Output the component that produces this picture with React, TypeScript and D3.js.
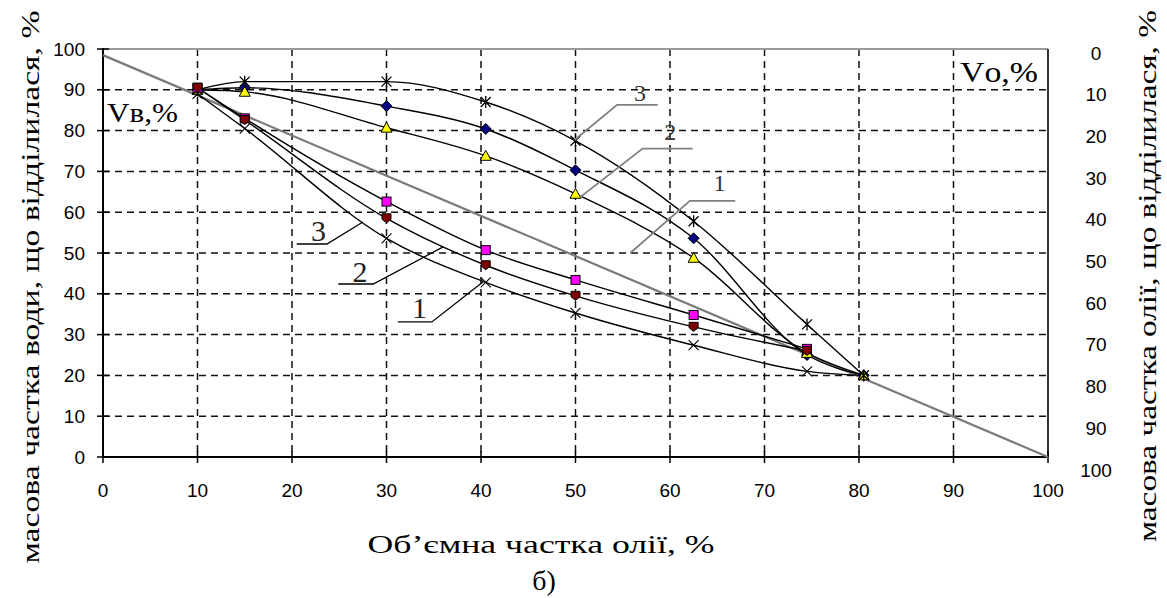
import React from "react";
import * as d3 from "d3";

// Oil volume fraction, % (x positions of measurements)
const OIL_FRACTION = [10, 15, 30, 40.5, 50, 62.5, 74.5, 80.5];

// Upper family: mass fraction of oil separated (curves 3, 2, 1)
const UPPER_3 = [90, 92, 92, 87, 77.5, 57.8, 32.5, 20];
const UPPER_2 = [90, 90.5, 86, 80.4, 70.3, 53.6, 25, 20];
const UPPER_1 = [90, 89.5, 80.7, 73.8, 64.5, 48.8, 25.5, 20];

// Lower family: mass fraction of water separated (curves 3, 2, 1)
const LOWER_X = [89, 80.5, 53.6, 42.8, 35.3, 27.4, 21, 20];
const LOWER_SQ = [90.5, 83, 62.6, 50.7, 43.4, 34.8, 26.5];
const LOWER_RD = [90.5, 82.6, 58.5, 47, 39.5, 31.9, 26];

// Reference diagonal (oil %, value %)
const DIAGONAL = [
  [0, 98.5],
  [100, 0],
];

const TICKS = [0, 10, 20, 30, 40, 50, 60, 70, 80, 90, 100];

// Curve number call-outs: label, text position, underline span, leader end (data units)
const CALLOUTS_UPPER = [
  { label: "3", tx: 56.2, ty: 87.2, u0: 54.4, u1: 58.7, uy: 86.3, lx: 49.9, ly: 77.7 },
  { label: "2", tx: 59.4, ty: 77.7, u0: 57.1, u1: 62.4, uy: 75.6, lx: 50.5, ly: 63.7 },
  { label: "1", tx: 64.6, ty: 65.2, u0: 62.1, u1: 66.9, uy: 62.8, lx: 55.8, ly: 50 },
];
const CALLOUTS_LOWER = [
  { label: "3", tx: 22.0, ty: 53.0, u0: 20.5, u1: 23.7, uy: 52.2, lx: 27.5, ly: 57.6 },
  { label: "2", tx: 26.4, ty: 42.9, u0: 24.9, u1: 28.6, uy: 42.4, lx: 36, ly: 51.5 },
  { label: "1", tx: 32.7, ty: 34.1, u0: 31.2, u1: 34.8, uy: 33.1, lx: 40.2, ly: 42.9 },
];

const W = 1167;
const H = 598;
const SERIF = '"Liberation Serif", "Times New Roman", Times, serif';
const SANS = '"Liberation Sans", Arial, sans-serif';
const serif = { fontFamily: SERIF, fontWeight: 400 } as React.CSSProperties;
const sans = { fontFamily: SANS, fontWeight: 400 } as React.CSSProperties;

const x = d3.scaleLinear().domain([0, 100]).range([103, 1048]);
const y = d3.scaleLinear().domain([0, 100]).range([457, 49]);
// right-hand scale (oil separated), reversed direction
const yRight = d3.scaleLinear().domain([0, 100]).range([53, 470]);

type Pt = [number, number];
const pts = (vals: number[]): Pt[] => vals.map((v, i) => [OIL_FRACTION[i], v]);

const line = d3
  .line<Pt>()
  .x((d) => x(d[0]))
  .y((d) => y(d[1]))
  .curve(d3.curveMonotoneX);

function Marker({ kind, cx, cy }: { kind: string; cx: number; cy: number }) {
  if (kind === "diamond") {
    const r = 5.5;
    return (
      <path
        d={`M${cx},${cy - r}L${cx + r},${cy}L${cx},${cy + r}L${cx - r},${cy}Z`}
        fill="#000080"
        stroke="#000"
        strokeWidth={1}
      />
    );
  }
  if (kind === "triangle") {
    const s = 5.5;
    return (
      <path
        d={`M${cx},${cy - s}L${cx + s},${cy + s * 0.8}L${cx - s},${cy + s * 0.8}Z`}
        fill="#ffff00"
        stroke="#000"
        strokeWidth={1}
      />
    );
  }
  if (kind === "square") {
    const s = 4.5;
    return (
      <rect x={cx - s} y={cy - s} width={2 * s} height={2 * s} fill="#ff00ff" stroke="#000" strokeWidth={1} />
    );
  }
  if (kind === "circle") {
    const s = 4.5;
    return (
      <path
        d={`M${cx - s},${cy - s}L${cx + s},${cy - s}L${cx + s},${cy + 1}L${cx},${cy + s}L${cx - s},${cy + 1}Z`}
        fill="#800000"
        stroke="#000"
        strokeWidth={1}
      />
    );
  }
  const a = 5;
  const cross = `M${cx - a},${cy - a}L${cx + a},${cy + a}M${cx - a},${cy + a}L${cx + a},${cy - a}`;
  if (kind === "star") {
    return <path d={`${cross}M${cx},${cy - a - 1}L${cx},${cy + a + 1}`} stroke="#000" strokeWidth={1.3} fill="none" />;
  }
  return <path d={cross} stroke="#000" strokeWidth={1.1} fill="none" />;
}

const SERIES = [
  { values: UPPER_2, marker: "diamond" },
  { values: UPPER_1, marker: "triangle" },
  { values: UPPER_3, marker: "star" },
  { values: LOWER_X, marker: "x" },
  { values: LOWER_SQ, marker: "square" },
  { values: LOWER_RD, marker: "circle" },
];

export default function App() {
  const gridVals = TICKS.slice(1, -1);
  return (
    <svg
      width={W}
      height={H}
      viewBox={`0 0 ${W} ${H}`}
      style={{ position: "absolute", left: 0, top: 0, background: "#fff" }}
    >
      <rect width={W} height={H} fill="#fff" />

      {/* dashed grid */}
      <g stroke="#111" strokeWidth={1.5} strokeDasharray="7,5">
        {gridVals.map((v) => (
          <line key={`h${v}`} x1={x(0)} x2={x(100)} y1={y(v)} y2={y(v)} />
        ))}
        {gridVals.map((v) => (
          <line key={`v${v}`} x1={x(v)} x2={x(v)} y1={y(100)} y2={y(0)} />
        ))}
      </g>

      {/* frame */}
      <line x1={x(0)} x2={x(100)} y1={y(100)} y2={y(100)} stroke="#999" strokeWidth={2} />
      <line x1={x(100)} x2={x(100)} y1={y(100)} y2={y(0)} stroke="#333" strokeWidth={2} />
      <line x1={x(0)} x2={x(0)} y1={y(100) - 1} y2={y(0)} stroke="#000" strokeWidth={2} />
      <line x1={x(0)} x2={x(100)} y1={y(0)} y2={y(0)} stroke="#000" strokeWidth={2} />

      {/* axis ticks */}
      <g stroke="#000" strokeWidth={1.5}>
        {TICKS.map((v) => (
          <line key={`ly${v}`} x1={x(0) - 6} x2={x(0) + 6} y1={y(v)} y2={y(v)} />
        ))}
        {TICKS.map((v) => (
          <line key={`bx${v}`} x1={x(v)} x2={x(v)} y1={y(0) - 6} y2={y(0) + 6} />
        ))}
      </g>

      {/* tick labels */}
      <g style={sans} fontSize={19} fill="#000">
        {TICKS.map((v) => (
          <text key={`tl${v}`} x={85} y={y(v)} textAnchor="end" dominantBaseline="central">
            {v}
          </text>
        ))}
        {TICKS.map((v) => (
          <text key={`tb${v}`} x={x(v)} y={490} textAnchor="middle" dominantBaseline="central">
            {v}
          </text>
        ))}
        {TICKS.map((v) => (
          <text key={`tr${v}`} x={1096} y={yRight(v)} textAnchor="middle" dominantBaseline="central">
            {v}
          </text>
        ))}
      </g>

      {/* reference diagonal */}
      <line
        x1={x(DIAGONAL[0][0])}
        y1={y(DIAGONAL[0][1])}
        x2={x(DIAGONAL[1][0])}
        y2={y(DIAGONAL[1][1])}
        stroke="#7a7a7a"
        strokeWidth={2.2}
      />

      {/* curves */}
      {SERIES.map((s, i) => (
        <path key={`c${i}`} d={line(pts(s.values)) || ""} fill="none" stroke="#000" strokeWidth={1.4} />
      ))}
      {SERIES.map((s, i) => (
        <g key={`m${i}`}>
          {pts(s.values).map((p, j) => (
            <Marker key={j} kind={s.marker} cx={x(p[0])} cy={y(p[1])} />
          ))}
        </g>
      ))}

      {/* call-outs */}
      {CALLOUTS_UPPER.map((c) => (
        <g key={`cu${c.label}`}>
          <polyline
            points={`${x(c.u1)},${y(c.uy)} ${x(c.u0)},${y(c.uy)} ${x(c.lx)},${y(c.ly)}`}
            fill="none"
            stroke="#808080"
            strokeWidth={1.8}
          />
          <text x={x(c.tx)} y={y(c.ty)} style={serif} fontSize={24} fill="#333">
            {c.label}
          </text>
        </g>
      ))}
      {CALLOUTS_LOWER.map((c) => (
        <g key={`cl${c.label}`}>
          <polyline
            points={`${x(c.u0)},${y(c.uy)} ${x(c.u1)},${y(c.uy)} ${x(c.lx)},${y(c.ly)}`}
            fill="none"
            stroke="#000"
            strokeWidth={1.3}
          />
          <text x={x(c.tx)} y={y(c.ty)} style={serif} fontSize={30} fill="#222">
            {c.label}
          </text>
        </g>
      ))}

      {/* in-plot axis captions */}
      <text x={107} y={122} style={serif} fontSize={28} textLength={71} lengthAdjust="spacingAndGlyphs">
        Vв,%
      </text>
      <text x={960} y={82} style={serif} fontSize={29} textLength={78} lengthAdjust="spacingAndGlyphs">
        Vо,%
      </text>

      {/* axis titles */}
      <text
        x={541}
        y={553}
        textAnchor="middle"
        style={serif}
        fontSize={26}
        textLength={347}
        lengthAdjust="spacingAndGlyphs"
      >
        Об’ємна частка олії, %
      </text>
      <text x={544} y={590} textAnchor="middle" style={serif} fontSize={28}>
        б)
      </text>
      <text
        transform={`translate(39,287) rotate(-90)`}
        textAnchor="middle"
        style={serif}
        fontSize={25}
        textLength={553}
        lengthAdjust="spacingAndGlyphs"
      >
        масова частка води, що відділилася, %
      </text>
      <text
        transform={`translate(1156,276) rotate(-90)`}
        textAnchor="middle"
        style={serif}
        fontSize={25}
        textLength={532}
        lengthAdjust="spacingAndGlyphs"
      >
        масова частка олії, що відділилася, %
      </text>
    </svg>
  );
}
